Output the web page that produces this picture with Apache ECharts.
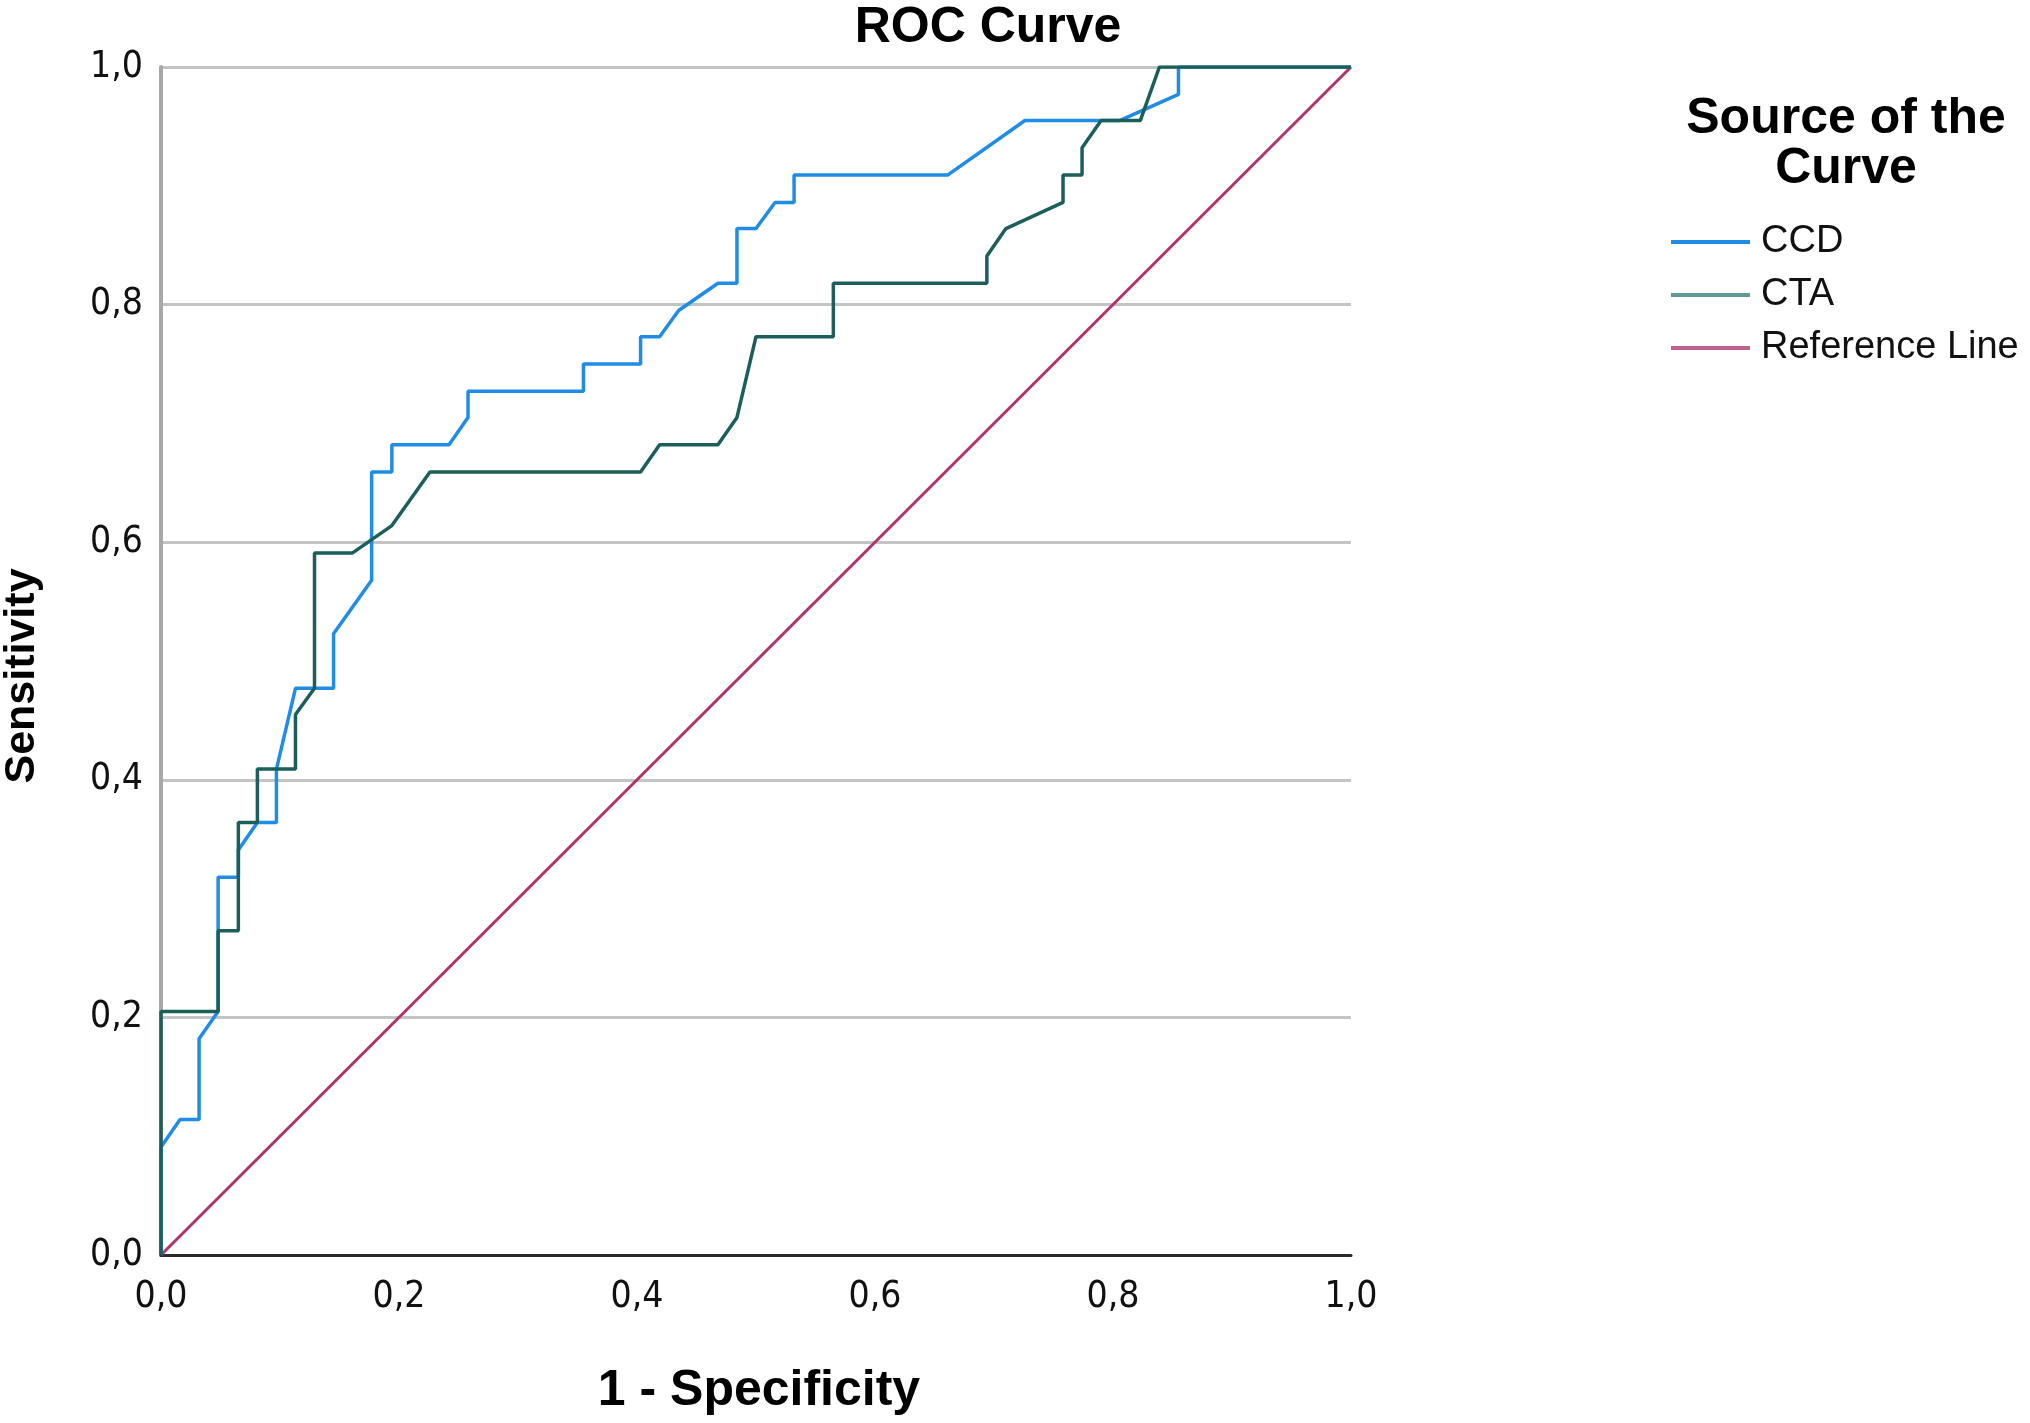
<!DOCTYPE html>
<html>
<head>
<meta charset="utf-8">
<script src="https://cdn.jsdelivr.net/npm/echarts@6/dist/echarts.min.js"></script>
<style>
html,body{margin:0;padding:0;background:#fff;}
#chart{width:2030px;height:1423px;}
</style>
</head>
<body>
<div id="chart"></div>
<script>
// ---- data ----
const titleText = 'ROC Curve';
const xAxisTitle = '1 - Specificity';
const yAxisTitle = 'Sensitivity';
const legendTitle = 'Source of the\nCurve';
const seriesNames = ['CCD', 'CTA', 'Reference Line'];
const tickValues = [0, 0.2, 0.4, 0.6, 0.8, 1.0];
const tickLabels = ['0,0', '0,2', '0,4', '0,6', '0,8', '1,0'];

const ccdFpr = [0, 0, 0.016, 0.032, 0.032, 0.048, 0.048, 0.065, 0.065, 0.081, 0.097, 0.097, 0.113, 0.145, 0.145, 0.177, 0.177, 0.194, 0.194, 0.242, 0.258, 0.258, 0.355, 0.355, 0.403, 0.403, 0.419, 0.435, 0.468, 0.484, 0.484, 0.500, 0.516, 0.532, 0.532, 0.661, 0.726, 0.806, 0.855, 0.855, 1.0];
const ccdTpr = [0, 0.091, 0.114, 0.114, 0.182, 0.205, 0.318, 0.318, 0.341, 0.364, 0.364, 0.409, 0.477, 0.477, 0.523, 0.568, 0.659, 0.659, 0.682, 0.682, 0.705, 0.727, 0.727, 0.750, 0.750, 0.773, 0.773, 0.795, 0.818, 0.818, 0.864, 0.864, 0.886, 0.886, 0.909, 0.909, 0.955, 0.955, 0.977, 1.0, 1.0];

const ctaFpr = [0, 0, 0.048, 0.048, 0.065, 0.065, 0.081, 0.081, 0.113, 0.113, 0.129, 0.129, 0.161, 0.194, 0.226, 0.403, 0.419, 0.468, 0.484, 0.500, 0.565, 0.565, 0.694, 0.694, 0.710, 0.758, 0.758, 0.774, 0.774, 0.790, 0.823, 0.839, 1.0];
const ctaTpr = [0, 0.205, 0.205, 0.273, 0.273, 0.364, 0.364, 0.409, 0.409, 0.455, 0.477, 0.591, 0.591, 0.614, 0.659, 0.659, 0.682, 0.682, 0.705, 0.773, 0.773, 0.818, 0.818, 0.841, 0.864, 0.886, 0.909, 0.909, 0.932, 0.955, 0.955, 1.0, 1.0];

const refFpr = [0, 1];
const refTpr = [0, 1];

const colors = ['#1f8ce6', '#1c5f5a', '#b0346c'];
const legendColors = ['#1f8ce6', '#5f9a94', '#c0608e'];

function pairs(xs, ys) { return xs.map((x, i) => [x, ys[i]]); }

const FONT = "'Liberation Sans', Arial, sans-serif";
const TICKFONT = "'Liberation Sans Narrow', 'DejaVu Sans Condensed', 'Liberation Sans', Arial, sans-serif";
const chart = echarts.init(document.getElementById('chart'));

chart.setOption({
  backgroundColor: '#ffffff',
  animation: false,
  grid: { left: 161, right: 679, top: 67, bottom: 168 },
  xAxis: {
    type: 'value', min: 0, max: 1, interval: 0.2,
    axisLine: { show: true, lineStyle: { color: '#2a2a2a', width: 3 } },
    axisTick: { show: false },
    splitLine: { show: false },
    axisLabel: {
      margin: 24, fontSize: 37, color: '#111', fontFamily: TICKFONT,
      formatter: v => tickLabels[tickValues.findIndex(t => Math.abs(t - v) < 1e-6)]
    }
  },
  yAxis: {
    type: 'value', min: 0, max: 1, interval: 0.2,
    axisLine: { show: true, lineStyle: { color: '#a8a8a8', width: 4 } },
    axisTick: { show: false },
    splitLine: { show: true, lineStyle: { color: '#c4c4c4', width: 3 } },
    axisLabel: {
      margin: 18, fontSize: 37, color: '#111', fontFamily: TICKFONT,
      padding: [10, 0, 0, 0],
      formatter: v => tickLabels[tickValues.findIndex(t => Math.abs(t - v) < 1e-6)]
    }
  },
  legend: {
    orient: 'vertical', left: 1666, top: 218,
    itemWidth: 79, itemHeight: 4, itemGap: 15,
    icon: 'rect',
    textStyle: { fontSize: 38, color: '#111', fontFamily: FONT, padding: [0, 0, 0, 6] },
    data: seriesNames.map((n, i) => ({ name: n, itemStyle: { color: legendColors[i] } }))
  },
  graphic: [
    { type: 'text', x: 988, y: 28, style: { text: titleText, font: 'bold 50px ' + FONT, fill: '#000', textAlign: 'center', textVerticalAlign: 'middle' } },
    { type: 'text', x: 759, y: 1391, style: { text: xAxisTitle, font: 'bold 50px ' + FONT, fill: '#000', textAlign: 'center', textVerticalAlign: 'middle' } },
    { type: 'text', x: 22, y: 676, rotation: Math.PI / 2, style: { text: yAxisTitle, font: 'bold 43px ' + FONT, fill: '#000', textAlign: 'center', textVerticalAlign: 'middle' } },
    { type: 'text', x: 1846, y: 94, style: { text: legendTitle, font: 'bold 50px ' + FONT, lineHeight: 50, fill: '#000', textAlign: 'center', textVerticalAlign: 'top' } }
  ],
  series: [
    { name: seriesNames[2], type: 'line', data: pairs(refFpr, refTpr), showSymbol: false, symbol: 'none', lineStyle: { color: colors[2], width: 3 }, itemStyle: { color: colors[2] }, z: 2 },
    { name: seriesNames[0], type: 'line', data: pairs(ccdFpr, ccdTpr), showSymbol: false, symbol: 'none', lineStyle: { color: colors[0], width: 3.5 }, itemStyle: { color: colors[0] }, z: 3 },
    { name: seriesNames[1], type: 'line', data: pairs(ctaFpr, ctaTpr), showSymbol: false, symbol: 'none', lineStyle: { color: colors[1], width: 3.5 }, itemStyle: { color: colors[1] }, z: 4 }
  ]
});
</script>
</body>
</html>
